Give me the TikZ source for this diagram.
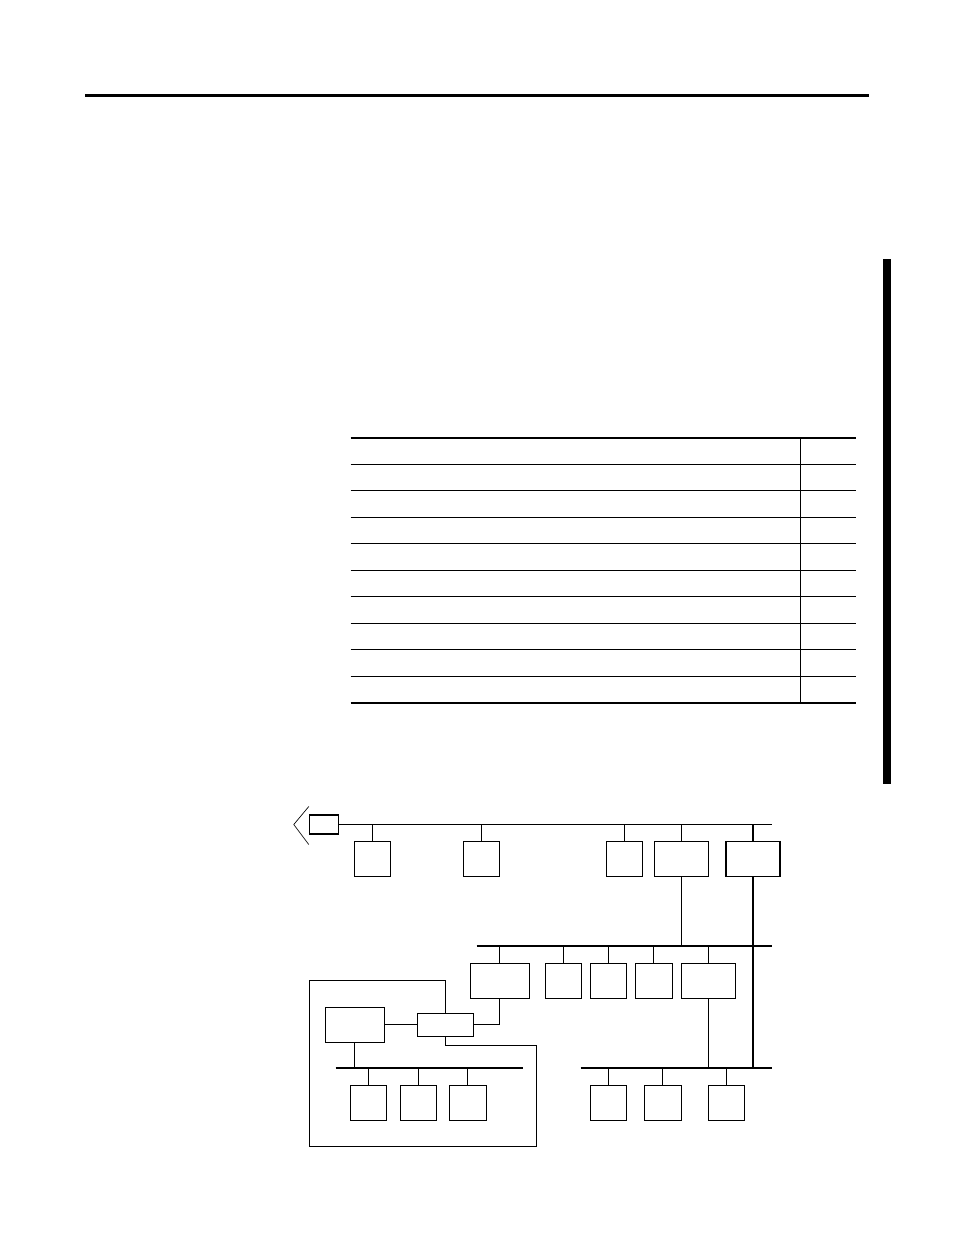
\documentclass[tikz,border=0pt]{standalone}
\usepackage{tikz}
\tikzset{
	unit node/.style={rectangle, draw, inner sep=0, line width=0.8pt, minimum width=27pt, minimum height=26.25pt},
	wide node/.style={unit node, minimum width=40.5pt},
	link node/.style={rectangle, draw, inner sep=0, line width=0.8pt, minimum width=42pt, minimum height=17.25pt},
	bus line/.style={line width=1.3pt},
	tap line/.style={line width=0.8pt},
	rule line/.style={line width=0.75pt},
}

\begin{document}
\begin{tikzpicture}[x=0.75pt, y=-0.75pt]
  \useasboundingbox (0,0) rectangle (954,1235);

  % page rules
  \draw[line width=2.25pt] (85,95.3) -- (869,95.3);
  \fill (883,258.7) rectangle (890.7,784);

  % table
  \draw[line width=1.5pt] (350.7,437.7) -- (856,437.7);
  \foreach \r in {1,...,9}
    \draw[rule line] (350.7,437.7+26.53*\r) -- (856,437.7+26.53*\r);
  \draw[line width=1.5pt] (350.7,703) -- (856,703);
  \draw[rule line] (800.3,437.7) -- (800.3,703);

  % buses
  \coordinate (bus1R) at (772,824.5);
  \coordinate (bus2L) at (476.7,945.7);
  \coordinate (bus2R) at (772,945.7);
  \coordinate (bus3L) at (580.7,1067.7);
  \coordinate (bus3R) at (772.3,1067.7);
  \coordinate (bus4L) at (335.7,1067.7);
  \coordinate (bus4R) at (523,1067.7);

  % top row
  \node[unit node, minimum width=21.75pt, minimum height=14.25pt] (adapter) at (323.8,824.5) {};
  \node[unit node] (b1) at (372.3,858.8) {};
  \node[unit node] (b2) at (481.3,858.8) {};
  \node[unit node] (b3) at (624.5,858.8) {};
  \node[wide node] (b4) at (681.3,858.8) {};
  \node[wide node] (b5) at (753,858.8) {};

  % middle row
  \node[unit node, minimum width=44.25pt] (a1) at (499.8,980.8) {};
  \node[unit node] (a2) at (563.3,980.8) {};
  \node[unit node] (a3) at (608.3,980.8) {};
  \node[unit node, minimum width=27.75pt] (a4) at (653.8,980.8) {};
  \node[wide node] (a5) at (708.3,980.8) {};

  % right row
  \node[unit node] (c1) at (608.3,1102.8) {};
  \node[unit node, minimum width=27.75pt] (c2) at (662.8,1102.8) {};
  \node[unit node] (c3) at (726.3,1102.8) {};

  % enclosed group
  \node[unit node, minimum width=44.25pt] (p1) at (354.8,1024.8) {};
  \node[link node] (gw) at (445.3,1024.8) {};
  \node[unit node] (d1) at (368.3,1102.8) {};
  \node[unit node] (d2) at (418.3,1102.8) {};
  \node[unit node, minimum width=27.75pt] (d3) at (467.8,1102.8) {};

  \draw[line width=0.5pt] ([yshift=13.5pt]adapter.west) -- ++(-15,18) -- ++(15,20);
  \draw[bus line] (adapter.east) -- (bus1R);
  \draw[bus line] (bus2L) -- (bus2R);
  \draw[bus line] (bus3L) -- (bus3R);
  \draw[bus line] (bus4L) -- (bus4R);
  \draw[line width=1.2pt] (b5.north east) -- (b5.south east);

  \foreach \n in {b1,b2,b3,b4,b5}
    \draw[tap line] (\n.north) -- (\n.north |- bus1R);
  \foreach \n in {a1,a2,a3,a4,a5}
    \draw[tap line] (\n.north) -- (\n.north |- bus2L);
  \foreach \n in {c1,c2,c3}
    \draw[tap line] (\n.north) -- (\n.north |- bus3L);
  \foreach \n in {d1,d2,d3}
    \draw[tap line] (\n.north) -- (\n.north |- bus4L);

  \draw[tap line] (b4.south) -- (b4.south |- bus2L);
  \draw[tap line] (b5.south) -- (b5.south |- bus3L);
  \draw[tap line] (a5.south) -- (a5.south |- bus3L);
  \draw[tap line] (p1.east) -- (gw.west);
  \draw[tap line] (gw.east) -- (a1.south |- gw.east) -- (a1.south);
  \draw[tap line] (p1.south) -- (p1.south |- bus4L);

  \coordinate (encTL) at (309.3,980.3);
  \coordinate (encBR) at (536.3,1146.3);
  \coordinate (encStep) at (536.3,1045.3);
  \draw[tap line] (gw.north) -- (gw.north |- encTL) -- (encTL) -- (encTL |- encBR)
    -- (encBR) -- (encStep) -- (gw.south |- encStep) -- (gw.south);

\end{tikzpicture}
\end{document}
